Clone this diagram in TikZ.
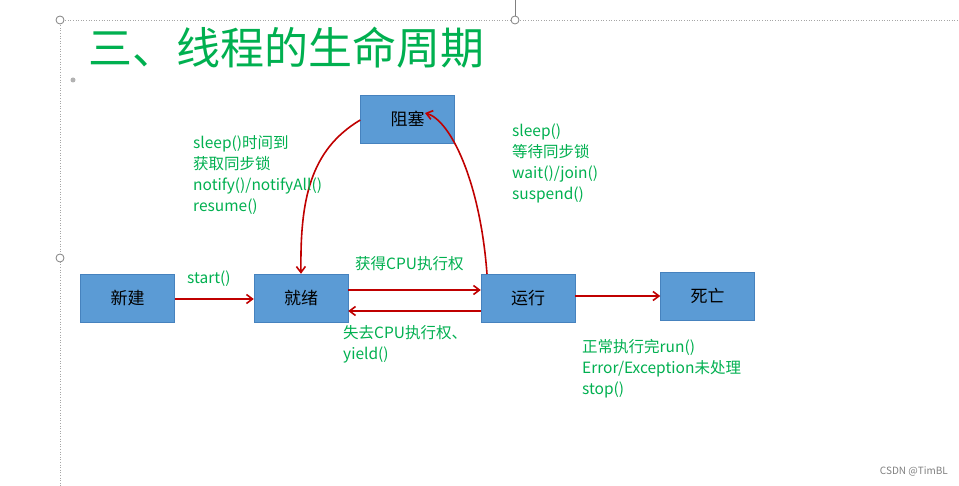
\documentclass[tikz,border=0pt]{standalone}
\usepackage{fontspec}
\setmainfont{Noto Sans CJK SC}
\usetikzlibrary{arrows.meta}
\definecolor{boxblue}{RGB}{91,155,213}
\definecolor{boxedge}{RGB}{70,130,190}
\definecolor{ared}{RGB}{192,0,0}
\definecolor{tgreen}{RGB}{0,176,80}
\tikzset{
 st/.style={draw=boxedge,fill=boxblue,minimum width=94pt,minimum height=48pt,inner sep=0pt,font=\fontsize{17}{17}\selectfont},
 ar/.style={draw=ared,line width=1.6pt,-{Straight Barb[length=6pt,width=9pt]}},
 lb/.style={text=tgreen,font=\fontsize{15.5}{21}\selectfont,align=left,inner sep=0pt},
 frm/.style={draw=gray!70,dotted,line width=0.6pt},
 hdl/.style={draw=gray,fill=white,line width=0.8pt,circle,inner sep=0pt,minimum size=8pt}
}
\begin{document}
\begin{tikzpicture}[x=1pt,y=-1pt]
\useasboundingbox (0,0) rectangle (959,486);
\fill[white] (0,0) rectangle (959,486);
\draw[frm] (60,20) -- (959,20);
\draw[frm] (60,20) -- (60,486);
\draw[gray,line width=0.6pt] (515,0) -- (515,20);
\node[hdl] (h1) at (60,20) {};
\node[hdl] (h2) at (515,20) {};
\node[hdl] (h3) at (60,258) {};
\fill[gray!60] (73,80) circle (2.5pt);
\node[anchor=west,text=tgreen,font=\fontsize{44}{44}\selectfont,inner sep=0pt] (title) at (88,48) {三、线程的生命周期};
\node[st] (new) at (127.5,298) {新建};
\node[st] (ready) at (301,298) {就绪};
\node[st] (run) at (528,298) {运行};
\node[st] (dead) at (707.5,296) {死亡};
\node[st] (block) at (407.5,119) {阻塞};
\draw[ar] (new.east |- 0,299) -- (ready.west |- 0,299);
\draw[ar] (ready.east |- 0,290) -- (run.west |- 0,290);
\draw[ar] (run.west |- 0,311) -- (ready.east |- 0,311);
\draw[ar] (run.east |- 0,296) -- (dead.west |- 0,296);
\draw[ar] (block.west |- 0,120) .. controls (310,150) and (300,200) .. (ready.north);
\coordinate (bt) at (425,113);
\draw[ar] (487,274) .. controls (480,180) and (450,120) .. (bt);
\node[lb,anchor=south west] (l1) at (187,287) {start()};
\node[lb,anchor=north west] (l2) at (193,135) {sleep()时间到\\获取同步锁\\notify()/notifyAll()\\resume()};
\node[lb,anchor=north west] (l3) at (512,124) {sleep()\\等待同步锁\\wait()/join()\\suspend()};
\node[lb,anchor=south west] (l4) at (355,271) {获得CPU执行权};
\node[lb,anchor=north west] (l5) at (343,325) {失去CPU执行权、\\yield()};
\node[lb,anchor=north west] (l6) at (582,339) {正常执行完run()\\Error/Exception未处理\\stop()};
\node[anchor=east,text=gray,font=\fontsize{10}{10}\selectfont,inner sep=0pt] (wm) at (948,471) {CSDN @TimBL};
\end{tikzpicture}
\end{document}
